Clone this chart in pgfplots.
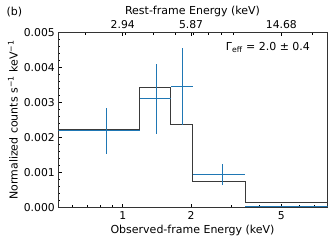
\documentclass[border=0pt]{standalone}
\usepackage{fontspec}
\setmainfont{DejaVu Sans}
\usepackage{pgfplots}
\pgfplotsset{compat=1.18}
\definecolor{tabblue}{HTML}{1F77B4}
\definecolor{modelc}{HTML}{3A3A3A}
\begin{document}
\begin{tikzpicture}[font=\fontsize{11}{13}\selectfont]
\useasboundingbox (-58.3pt,-33.7pt) rectangle (275.7pt,207.3pt);
\pgfplotsset{
  every axis/.append style={
    scale only axis, width=269.4pt, height=174.6pt,
    xmode=log, xmin=0.52, xmax=8,
    tick align=inside,
    major tick length=3.5pt, minor tick length=2pt,
    every tick/.style={black, line width=0.6pt},
    axis line style={black!80, line width=0.9pt},
    /pgf/number format/assume math mode=true,
    tick label style={font=\fontsize{10.8}{12}\selectfont},
  }
}
\begin{axis}[
  ymin=0, ymax=0.005,
  xtick={1,2,5}, xticklabels={1,2,5},
  minor xtick={0.6,0.7,0.8,0.9,3,4,6,7},
  xtick pos=bottom, ytick pos=left,
  ytick={0,0.001,0.002,0.003,0.004,0.005},
  minor y tick num=4,
  scaled y ticks=false,
  yticklabel style={/pgf/number format/.cd, fixed, fixed zerofill, precision=3},
  xticklabel style={yshift=-0.5pt},
  clip=true,
]
% model (step)
\addplot[const plot mark left, color=modelc, line width=1.1pt] coordinates {
 (0.45,0.00224) (1.19,0.00343) (1.626,0.00237) (2.03,0.00075) (3.47,0.00015) (8.6,0.00015)
};
% data with asymmetric errors
\addplot[draw=none, mark=none,
  error bars/.cd, x dir=both, x explicit, y dir=both, y explicit,
  error mark=none,
  error bar style={draw=tabblue, line width=1.1pt}]
  table[x=x, y=y, x error minus=exm, x error plus=exp, y error minus=eym, y error plus=eyp] {
x      y        exm     exp     eym      eyp
0.847  0.00219  0.397   0.343   0.00066  0.00065
1.41   0.00311  0.22    0.216   0.00100  0.00099
1.83   0.00346  0.204   0.20    0.00110  0.00109
2.75   0.00094  0.72    0.72    0.00029  0.00030
5.40   0.00003  1.93    3.2     0.00002  0.00002
};
\node[anchor=east, inner sep=0pt] at (rel axis cs:0.935,0.915) {Γ\textsubscript{eff} = 2.0 ± 0.4};
\end{axis}
\begin{axis}[
  ymin=0, ymax=0.005,
  axis x line*=top, axis y line=none,
  xtick={1,2,5}, xticklabels={2.94,5.87,14.68},
  minor xtick={0.6812,1.0218,1.3624,1.7030,2.0436,2.3842,2.7248,3.0654,6.8120},
  xticklabel style={yshift=0.5pt},
]
\end{axis}
\node[anchor=center] at (134.2pt,-22.7pt) {Observed-frame Energy (keV)};
\node[anchor=center] at (134.2pt,196.3pt) {Rest-frame Energy (keV)};
\node[anchor=center, rotate=90] at (-45.3pt,87.3pt) {Normalized counts s\textsuperscript{−1} keV\textsuperscript{−1}};
\node[anchor=west, inner sep=0pt] at (-51.8pt,195.3pt) {(b)};
\end{tikzpicture}
\end{document}
